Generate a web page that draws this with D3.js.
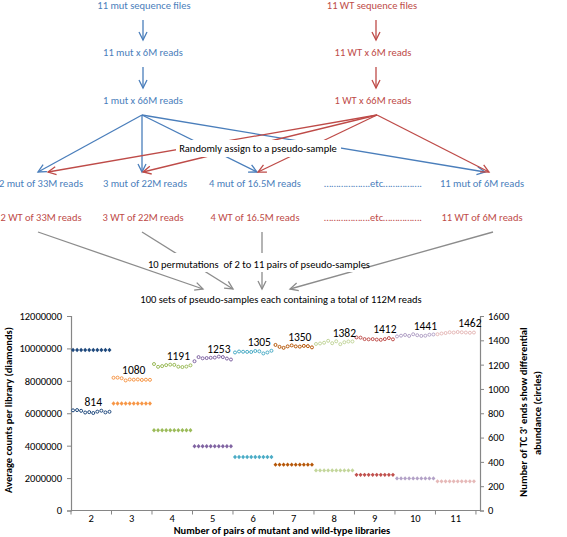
<!DOCTYPE html>
<html><head><meta charset="utf-8">
<script src="https://cdn.jsdelivr.net/npm/d3@7"></script>
<style>
html,body{margin:0;padding:0;background:#fff;}
svg{display:block;}
text{font-family:Carlito, Lato, "Liberation Sans", sans-serif;}
</style></head>
<body>
<svg id="chart" width="567" height="537"></svg>
<script>
// ---------------- DATA ----------------
const categories = ["2","3","4","5","6","7","8","9","10","11"];
const groupColors = ["#1F497D","#F79646","#9BBB59","#8064A2","#4BACC6","#B65708","#C3D69B","#C0504D","#B3A2C7","#E6B9B8"];
const diamondSeries = [
  [9900000,9900000,9900000,9900000,9900000,9900000,9900000,9900000,9900000,9900000],
  [6600000,6600000,6600000,6600000,6600000,6600000,6600000,6600000,6600000,6600000],
  [4950000,4950000,4950000,4950000,4950000,4950000,4950000,4950000,4950000,4950000],
  [3960000,3960000,3960000,3960000,3960000,3960000,3960000,3960000,3960000,3960000],
  [3300000,3300000,3300000,3300000,3300000,3300000,3300000,3300000,3300000,3300000],
  [2830000,2830000,2830000,2830000,2830000,2830000,2830000,2830000,2830000,2830000],
  [2475000,2475000,2475000,2475000,2475000,2475000,2475000,2475000,2475000,2475000],
  [2200000,2200000,2200000,2200000,2200000,2200000,2200000,2200000,2200000,2200000],
  [1980000,1980000,1980000,1980000,1980000,1980000,1980000,1980000,1980000,1980000],
  [1800000,1800000,1800000,1800000,1800000,1800000,1800000,1800000,1800000,1800000]
];
const circleSeries = [
  [824,826,820,806,809,802,813,821,807,812],
  [1092,1093,1088,1070,1078,1076,1078,1074,1076,1075],
  [1205,1182,1188,1196,1200,1198,1183,1180,1184,1194],
  [1228,1262,1252,1254,1256,1258,1266,1262,1250,1242],
  [1300,1308,1306,1305,1304,1312,1309,1292,1300,1314],
  [1362,1346,1338,1350,1358,1350,1348,1354,1352,1342],
  [1370,1374,1380,1396,1376,1392,1368,1384,1390,1390],
  [1424,1422,1410,1408,1410,1406,1404,1410,1418,1408],
  [1432,1438,1444,1436,1450,1442,1436,1438,1446,1448],
  [1450,1456,1460,1466,1464,1468,1466,1464,1462,1464]
];
const meanLabels = [814,1080,1191,1253,1305,1350,1382,1412,1441,1462];
const labelPoint = [5,5,6,6,6,6,7,7,7,8];
const leftTicks = [0,2000000,4000000,6000000,8000000,10000000,12000000];
const rightTicks = [0,200,400,600,800,1000,1200,1400,1600];

// ---------------- FLOW DIAGRAM ----------------
const BLUE = "#4A7EBB", RED = "#BE4B48", GRAY = "#8C8C8C";
const svg = d3.select("#chart");
const defs = svg.append("defs");
[["blue",BLUE],["red",RED],["gray",GRAY]].forEach(([id,c])=>{
  defs.append("marker").attr("id","arr-"+id).attr("viewBox","-10 -6 12 12")
    .attr("refX",0).attr("refY",0).attr("markerWidth",12).attr("markerHeight",12)
    .attr("markerUnits","userSpaceOnUse").attr("orient","auto")
    .append("path").attr("d","M-8,-4L0,0L-8,4").attr("fill","none")
    .attr("stroke",c).attr("stroke-width",1.3);
});
const diagram = svg.append("g");
const edges = [
  {c:"blue",p:[[143,20],[143,40]]},{c:"blue",p:[[143,67],[143,88]]},
  {c:"red",p:[[376,20],[376,40]]},{c:"red",p:[[376,67],[376,88]]},
  {c:"blue",p:[[142,115],[38,172]]},{c:"blue",p:[[142,115],[142,172]]},
  {c:"blue",p:[[142,115],[257,172]]},{c:"blue",p:[[142,115],[485,172]]},
  {c:"red",p:[[377,115],[48,172]]},{c:"red",p:[[377,115],[143,172]]},
  {c:"red",p:[[377,115],[258,172]]},{c:"red",p:[[377,115],[489,172]]},
  {c:"gray",p:[[38,232],[203,289]]},{c:"gray",p:[[142,232],[233,289]]},
  {c:"gray",p:[[262,232],[262,289]]},{c:"gray",p:[[493,232],[290,289]]}
];
const colorOf = {blue:BLUE,red:RED,gray:GRAY};
diagram.selectAll("line.edge").data(edges).join("line").attr("class","edge")
  .attr("x1",d=>d.p[0][0]).attr("y1",d=>d.p[0][1])
  .attr("x2",d=>d.p[1][0]).attr("y2",d=>d.p[1][1])
  .attr("stroke",d=>colorOf[d.c]).attr("stroke-width",1.3)
  .attr("marker-end",d=>"url(#arr-"+d.c+")");
// white boxes behind central labels
const boxes = [[176,140,165,17],[157,253,206,19]];
diagram.selectAll("rect.box").data(boxes).join("rect").attr("class","box")
  .attr("x",d=>d[0]).attr("y",d=>d[1]).attr("width",d=>d[2]).attr("height",d=>d[3]).attr("fill","#fff");
const texts = [
  {t:"11 mut sequence files",x:144,y:8.5,c:BLUE},
  {t:"11 mut x 6M reads",x:143,y:56,c:BLUE},
  {t:"1 mut x 66M reads",x:143,y:104,c:BLUE},
  {t:"11 WT sequence files",x:372,y:8.5,c:RED},
  {t:"11 WT x 6M reads",x:373,y:56,c:RED},
  {t:"1 WT x 66M reads",x:373,y:104,c:RED},
  {t:"Randomly assign to a pseudo-sample",x:258,y:152,c:"#000"},
  {t:"2 mut of 33M reads",x:41,y:187,c:BLUE},
  {t:"3 mut of 22M reads",x:145,y:187,c:BLUE},
  {t:"4 mut of 16.5M reads",x:255,y:187,c:BLUE},
  {t:"……………….etc…………….",x:373,y:187,c:BLUE},
  {t:"11 mut of 6M reads",x:482,y:187,c:BLUE},
  {t:"2 WT of 33M reads",x:41,y:221,c:RED},
  {t:"3 WT of 22M reads",x:143,y:221,c:RED},
  {t:"4 WT of 16.5M reads",x:255,y:221,c:RED},
  {t:"……………….etc…………….",x:373,y:221,c:RED},
  {t:"11 WT of 6M reads",x:482,y:221,c:RED},
  {t:"10 permutations  of 2 to 11 pairs of pseudo-samples",x:259,y:268,c:"#000"},
  {t:"100 sets of pseudo-samples each containing a total of 112M reads",x:281,y:303,c:"#000"}
];
diagram.selectAll("text").data(texts).join("text")
  .attr("x",d=>d.x).attr("y",d=>d.y).attr("text-anchor","middle")
  .attr("fill",d=>d.c).attr("font-size",10.5).attr("xml:space","preserve")
  .style("white-space","pre").text(d=>d.t);

// ---------------- CHART ----------------
const X0 = 71, X1 = 480, YB = 510.5, YT = 316;
const slots = d3.range(101);
const x = d3.scaleBand().domain(slots).range([X0,X1]).paddingInner(0).paddingOuter(0);
const cx = i => x(i) + x.bandwidth()/2;
const cat = d3.scaleBand().domain(categories).range([X0, x(100)]);
const yL = d3.scaleLinear().domain([0,12000000]).range([YB,YT]);
const yR = d3.scaleLinear().domain([0,1600]).range([YB,YT]);
const AX = "#868686";
const chart = svg.append("g");

// axes
const gl = chart.append("g").attr("transform",`translate(${X0},0)`)
  .call(d3.axisLeft(yL).tickValues(leftTicks).tickFormat(d3.format("d")).tickSize(4).tickPadding(5));
const gr = chart.append("g").attr("transform",`translate(${X1},0)`)
  .call(d3.axisRight(yR).tickValues(rightTicks).tickFormat(d3.format("d")).tickSize(4).tickPadding(4));
const gb = chart.append("g").attr("transform",`translate(0,${YB})`)
  .call(d3.axisBottom(cat).tickSize(0).tickPadding(4));
gb.select(".domain").attr("d",`M${X0},0H${X1}`);
gb.selectAll(".bound").data(d3.range(0,101,10)).join("line").attr("class","bound")
  .attr("x1",d=>x(d)).attr("x2",d=>x(d)).attr("y1",0).attr("y2",4).attr("stroke",AX);
[gl,gr,gb].forEach(g=>{
  g.select(".domain").attr("stroke",AX).attr("stroke-width",1.2);
  g.selectAll(".tick line").attr("stroke",AX);
  g.selectAll(".tick text").attr("fill","#000").attr("font-size",10.5)
    .attr("font-family","Carlito, Lato, 'Liberation Sans', sans-serif");
});

// points
const diamondPath = "M0,-2.2L2,0L0,2.2L-2,0Z";
categories.forEach((c,gi)=>{
  const col = groupColors[gi];
  chart.append("g").selectAll("path").data(diamondSeries[gi]).join("path")
    .attr("d",diamondPath)
    .attr("transform",(v,k)=>`translate(${cx(gi*10+k)},${yL(v)})`)
    .attr("fill",col);
  chart.append("g").selectAll("circle").data(circleSeries[gi]).join("circle")
    .attr("cx",(v,k)=>cx(gi*10+k)).attr("cy",v=>yR(v)).attr("r",1.5)
    .attr("fill","#fff").attr("stroke",col).attr("stroke-width",1);
});
// mean labels
chart.append("g").selectAll("text").data(meanLabels).join("text")
  .attr("x",(v,gi)=>cx(gi*10+labelPoint[gi])).attr("y",v=>yR(v)-5.5)
  .attr("text-anchor","middle").attr("font-size",11.5).attr("fill","#000").text(v=>v);

// axis titles
chart.append("text").attr("transform","translate(12,410) rotate(-90)")
  .attr("text-anchor","middle").attr("font-size",10.5).attr("font-weight","bold")
  .text("Average counts per library (diamonds)");
chart.append("text").attr("transform","translate(527,412) rotate(-90)")
  .attr("text-anchor","middle").attr("font-size",10.5).attr("font-weight","bold")
  .text("Number of TC 3' ends show differential");
chart.append("text").attr("transform","translate(541,413) rotate(-90)")
  .attr("text-anchor","middle").attr("font-size",10.5).attr("font-weight","bold")
  .text("abundance (circles)");
chart.append("text").attr("x",282).attr("y",534)
  .attr("text-anchor","middle").attr("font-size",10.5).attr("font-weight","bold")
  .text("Number of pairs of mutant and wild-type libraries");
</script>
</body></html>
